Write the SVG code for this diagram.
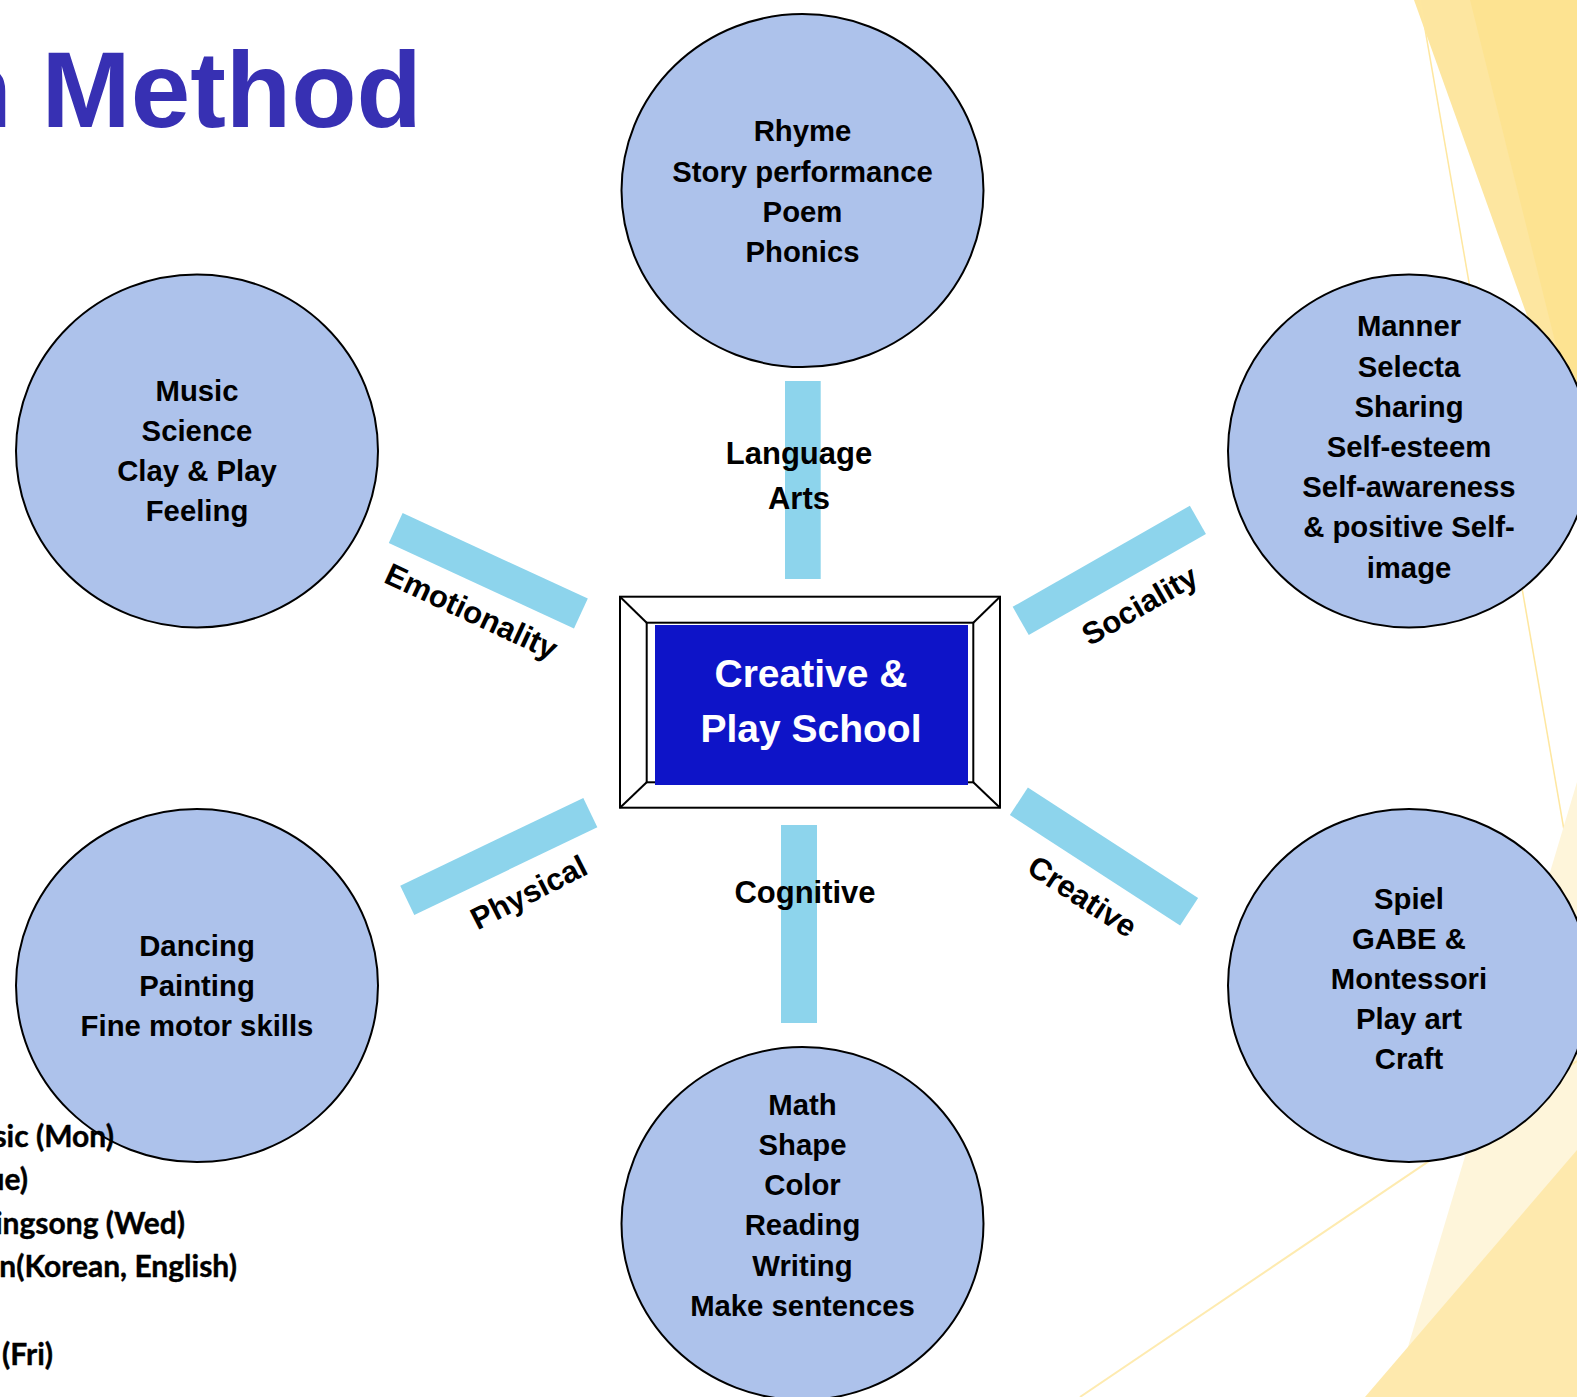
<svg xmlns="http://www.w3.org/2000/svg" width="1577" height="1397" viewBox="0 0 1577 1397">
<defs>
<style>
.bg{fill:#ffffff}
.node{fill:#ADC2EB;stroke:#000;stroke-width:2}
.nt{font-family:"Liberation Sans",Arial,sans-serif;font-weight:bold;font-size:29.3px;fill:#000;text-anchor:middle}
.bar{fill:#8DD4EC}
.lbl{font-family:"Liberation Sans",Arial,sans-serif;font-weight:bold;font-size:31px;fill:#000;text-anchor:middle}
.frame{fill:#fff;stroke:#000;stroke-width:2}
.side{font-family:Lato,"Open Sans",sans-serif;font-weight:bold;font-size:30px;fill:#000;text-anchor:end;stroke:#000;stroke-width:0.4}
</style>
</defs>
<rect class="bg" x="0" y="0" width="1577" height="1397"/>
<g id="decoration">
<polygon points="1414,0 1577,0 1577,455" fill="#FDE6A0"/>
<polygon points="1470,0 1577,0 1577,430" fill="#FDE391"/>
<line x1="1420" y1="0" x2="1577" y2="905" stroke="#FEE7A0" stroke-width="1.5"/>
<polygon points="1577,782 1393,1397 1577,1397" fill="#FEF5DA"/>
<polygon points="1365,1397 1577,1150 1577,1397" fill="#FEE9AD"/>
<line x1="1080" y1="1397" x2="1577" y2="1061" stroke="#FEEBB0" stroke-width="2"/>
</g>
<text id="title" x="-53.6" y="126.7" font-family="'Liberation Sans',Arial,sans-serif" font-weight="bold" font-size="107" fill="#3730B3">n Method</text>
<g id="connectors">
<rect class="bar" x="785" y="381" width="35.7" height="198"/>
<rect class="bar" x="781" y="825" width="36" height="198"/>
<rect class="bar" x="-102" y="-16.5" width="204" height="33" transform="translate(488.3,570.8) rotate(24.8)"/>
<rect class="bar" x="-101.5" y="-16.25" width="203" height="32.5" transform="translate(498.8,856.5) rotate(-25.6)"/>
<rect class="bar" x="-102" y="-16.25" width="204" height="32.5" transform="translate(1109.3,570.4) rotate(-29.7)"/>
<rect class="bar" x="-101.5" y="-16.5" width="203" height="33" transform="translate(1104,856.5) rotate(33)"/>
<text class="lbl" x="799" y="464">Language</text>
<text class="lbl" x="799" y="509">Arts</text>
<text class="lbl" x="805" y="903">Cognitive</text>
<text class="lbl" transform="translate(471,612) rotate(25)" y="10">Emotionality</text>
<text class="lbl" transform="translate(529,893) rotate(-27)" y="10">Physical</text>
<text class="lbl" transform="translate(1140,606) rotate(-30)" y="10">Sociality</text>
<text class="lbl" transform="translate(1082,897) rotate(33)" y="10">Creative</text>
</g>
<g id="center">
<rect class="frame" x="620" y="596.7" width="380" height="211"/>
<rect class="frame" x="646.7" y="622.7" width="326.6" height="159.6"/>
<line x1="620" y1="596.7" x2="646.7" y2="622.7" stroke="#000" stroke-width="2"/>
<line x1="1000" y1="596.7" x2="973.3" y2="622.7" stroke="#000" stroke-width="2"/>
<line x1="620" y1="807.7" x2="646.7" y2="782.3" stroke="#000" stroke-width="2"/>
<line x1="1000" y1="807.7" x2="973.3" y2="782.3" stroke="#000" stroke-width="2"/>
<rect x="655" y="625" width="313" height="160" fill="#0E14C8"/>
<text x="811" y="686.7" font-family="'Liberation Sans',Arial,sans-serif" font-weight="bold" font-size="39" fill="#fff" text-anchor="middle">Creative &amp;</text>
<text x="811" y="741.7" font-family="'Liberation Sans',Arial,sans-serif" font-weight="bold" font-size="39" fill="#fff" text-anchor="middle">Play School</text>
</g>
<g id="node-language">
<ellipse class="node" cx="802.5" cy="190.6" rx="181" ry="176.5"/>
<text class="nt" x="802.5" y="141.3">Rhyme</text>
<text class="nt" x="802.5" y="181.5">Story performance</text>
<text class="nt" x="802.5" y="221.7">Poem</text>
<text class="nt" x="802.5" y="261.9">Phonics</text>
</g>
<g id="node-emotionality">
<ellipse class="node" cx="197" cy="451" rx="181" ry="176.5"/>
<text class="nt" x="197" y="400.7">Music</text>
<text class="nt" x="197" y="440.9">Science</text>
<text class="nt" x="197" y="481.1">Clay &amp; Play</text>
<text class="nt" x="197" y="521.3">Feeling</text>
</g>
<g id="node-sociality">
<ellipse class="node" cx="1409" cy="451" rx="181" ry="176.5"/>
<text class="nt" x="1409" y="336.3">Manner</text>
<text class="nt" x="1409" y="376.5">Selecta</text>
<text class="nt" x="1409" y="416.7">Sharing</text>
<text class="nt" x="1409" y="456.9">Self-esteem</text>
<text class="nt" x="1409" y="497.1">Self-awareness</text>
<text class="nt" x="1409" y="537.3">&amp; positive Self-</text>
<text class="nt" x="1409" y="577.5">image</text>
</g>
<g id="node-physical">
<ellipse class="node" cx="197" cy="985.6" rx="181" ry="176.5"/>
<text class="nt" x="197" y="955.8">Dancing</text>
<text class="nt" x="197" y="996">Painting</text>
<text class="nt" x="197" y="1036.2">Fine motor skills</text>
</g>
<g id="node-creative">
<ellipse class="node" cx="1409" cy="985.6" rx="181" ry="176.5"/>
<text class="nt" x="1409" y="908.5">Spiel</text>
<text class="nt" x="1409" y="948.7">GABE &amp;</text>
<text class="nt" x="1409" y="988.9">Montessori</text>
<text class="nt" x="1409" y="1029.1">Play art</text>
<text class="nt" x="1409" y="1069.3">Craft</text>
</g>
<g id="node-cognitive">
<ellipse class="node" cx="802.5" cy="1223.5" rx="181" ry="176.5"/>
<text class="nt" x="802.5" y="1114.7">Math</text>
<text class="nt" x="802.5" y="1154.9">Shape</text>
<text class="nt" x="802.5" y="1195.1">Color</text>
<text class="nt" x="802.5" y="1235.3">Reading</text>
<text class="nt" x="802.5" y="1275.5">Writing</text>
<text class="nt" x="802.5" y="1315.7">Make sentences</text>
</g>
<g id="schedule">
<text class="side" x="114" y="1147">sic (Mon)</text>
<text class="side" x="28" y="1190">ue)</text>
<text class="side" x="185" y="1233.5">ingsong (Wed)</text>
<text class="side" x="237" y="1277">n(Korean, English)</text>
<text class="side" x="53" y="1364.5">(Fri)</text>
</g>
</svg>
